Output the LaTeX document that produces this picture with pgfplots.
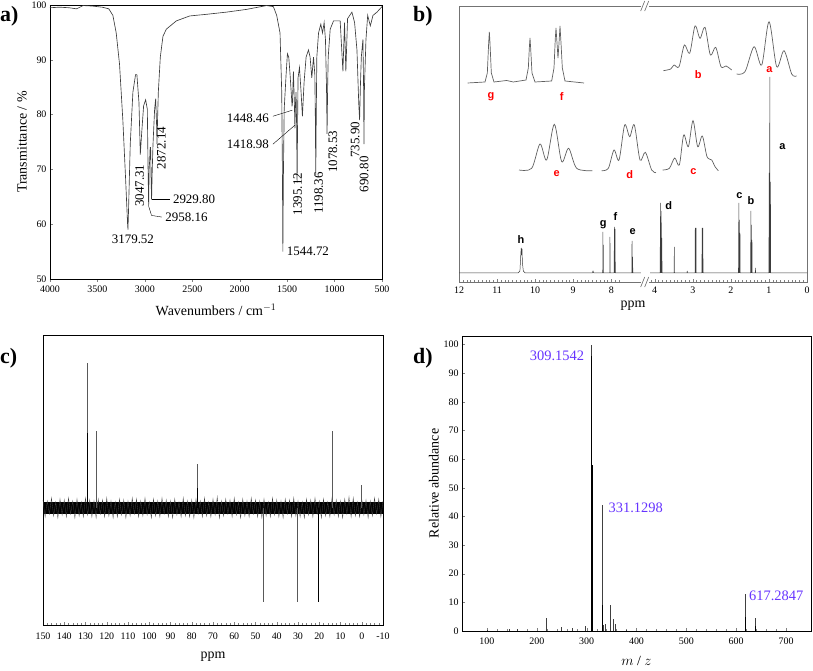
\documentclass[border=0pt]{standalone}
\usepackage{fontspec}
\setmainfont{Liberation Serif}
\newfontfamily\arialfont{Liberation Sans}
\usepackage{pgfplots}
\pgfplotsset{compat=1.18}
\definecolor{specgray}{RGB}{60,60,60}
\definecolor{insetgray}{RGB}{95,95,95}
\definecolor{labred}{RGB}{255,0,0}
\definecolor{labblue}{RGB}{102,51,255}
\newcommand{\fs}[1]{\fontsize{#1}{#1}\selectfont}
\begin{document}
\begin{tikzpicture}
\useasboundingbox (0bp,0bp) rectangle (813bp,671bp);
\pgfplotsset{every axis/.append style={scale only axis, anchor=south west,
  /pgf/number format/assume math mode=true,
  tick label style={font=\fs{10}},
  label style={font=\fs{14}},
  /pgf/number format/1000 sep={}}}
% ---------------- a) IR
\begin{axis}[at={(50bp,392bp)}, width=332bp, height=274bp,
  xmin=500, xmax=4000, x dir=reverse, ymin=50, ymax=100,
  xtick={500,1000,...,4000}, ytick={50,60,...,100},
  tick pos=left, xtick align=outside, ytick align=inside,
  major tick length=3bp,
  axis line style={line width=0.6pt},
  xlabel={Wavenumbers / cm$^{-1}$}, ylabel={Transmittance / \%},
  xlabel style={yshift=-5bp}, ylabel style={yshift=-2bp},
  clip=false]
\addplot[specgray, line width=0.65pt] coordinates {
(4000,99.5)(3900,99.6)(3800,99.5)(3720,99.3)(3650,99.9)(3550,99.8)(3450,99.6)(3380,99.3)(3337,98.1)(3302,94.9)(3267,89.2)(3232,79)(3203,68.3)(3182,60)(3178,59)(3172,62.6)(3154,74.6)(3126,84.1)(3098,87.3)(3084,87.3)(3062,82.2)(3048,72.7)(3034,76.5)(3013,81.6)(2992,82.7)(2974,81)(2966,70)(2960,63.2)(2955,70)(2950,71.4)(2944,74)(2939,74)(2934,68)(2929,64.5)(2922,70)(2914,74.6)(2897,81)(2886,82.9)(2876,78)(2872,74.6)(2866,79)(2858,84.1)(2837,90.5)(2809,94.3)(2773,95.6)(2668,97.1)(2527,98)(2350,98.3)(2139,98.7)(1927,99.2)(1716,99.9)(1645,99.7)(1610,98.1)(1575,94.9)(1557,84.1)(1550,70)(1545,55)(1540,68)(1531,81)(1511,87.3)(1497,91.1)(1483,90.5)(1469,87.3)(1455,83.5)(1448,81.5)(1444,82.2)(1434,87.9)(1423,81.6)(1418,77.5)(1412,82)(1406,84.1)(1400,78)(1395,67.6)(1390,78)(1385,86.7)(1370,88.6)(1353,84.1)(1339,79.7)(1321,86)(1300,90.5)(1275,91.8)(1258,90.5)(1240,86.7)(1222,90.5)(1208,87.3)(1203,80)(1198,68.9)(1193,80)(1187,90.5)(1169,94.9)(1145,96.5)(1127,94.9)(1110,96.8)(1096,93.7)(1085,85)(1079,76.5)(1073,85)(1067,90.5)(1046,95.6)(1011,97.1)(941,97.1)(912,87.9)(895,96.8)(881,87.9)(863,97.5)(817,98.7)(789,96.8)(764,91.8)(745,82)(736,79)(728,85)(718,90.5)(701,93.7)(694,85)(690,74.6)(685,85)(669,93.7)(651,98.1)(623,96.2)(595,98.1)(553,98.7)(500,99.7)};
\begin{scope}[font=\fs{13}]
\node at (axis cs:3126,57.2) {3179.52};
\node[rotate=90] at (axis cs:3055,67) {3047.31};
\node[rotate=90] at (axis cs:2826,73.9) {2872.14};
\draw[line width=0.4pt] (axis cs:2926,64.5) -- (axis cs:2740,64.5);
\node[anchor=west] at (axis cs:2740,64.5) {2929.80};
\draw[line width=0.4pt] (axis cs:2958,63.2) -- (axis cs:2930,61.6) -- (axis cs:2820,61.3);
\node[anchor=west] at (axis cs:2820,61.3) {2958.16};
\node[anchor=west] at (axis cs:1540,55) {1544.72};
\draw[line width=0.4pt] (axis cs:1650,79.7) -- (axis cs:1445,80.8);
\node[anchor=east] at (axis cs:1655,79.4) {1448.46};
\draw[line width=0.4pt] (axis cs:1650,74.6) -- (axis cs:1416,78.1);
\node[anchor=east] at (axis cs:1655,74.5) {1418.98};
\node[rotate=90] at (axis cs:1388,65.5) {1395.12};
\node[rotate=90] at (axis cs:1169,65.7) {1198.36};
\node[rotate=90] at (axis cs:1018,73.2) {1078.53};
\node[rotate=90] at (axis cs:782,75.4) {735.90};
\node[rotate=90] at (axis cs:687,69.1) {690.80};
\end{scope}
\end{axis}
% ---------------- b) 1H NMR
\begin{axis}[at={(459bp,389bp)}, width=348bp, height=276bp,
  xmin=2.86, xmax=12, x dir=reverse, ymin=-9, ymax=267,
  xtick={2.86,3.86,4.86,5.86,6.86,8,9,10,11,12},
  xticklabels={0,1,2,3,4,8,9,10,11,12},
  minor xtick={2.96,3.06,...,6.96,7.8,7.9,...,11.9},
  ytick=\empty, xtick pos=bottom, xtick align=inside,
  major tick length=3bp, minor tick length=2bp,
  x tick label style={yshift=-1bp},
  axis line style={black!55, line width=0.9pt},
  xlabel={ppm}, xlabel style={yshift=-1bp}, clip=false]
\addplot[specgray, line width=0.5pt] coordinates {
(12,0)(10.45,0)(10.40,2)(10.375,20)(10.365,25)(10.355,18)(10.345,24)(10.335,10)(10.31,2)(10.26,0)(8.5,0)(8.48,2)(8.46,0)(8.225,0)(8.22,41)(8.215,0)(8.21,28)(8.205,0)(8.04,0)(8.035,36)(8.03,0)(7.925,0)(7.92,46)(7.915,0)(7.9,44)(7.895,0)(7.46,0)(7.456,32)(7.45,0)(7.44,16)(7.435,0)(7.22,0)};
\addplot[specgray, line width=0.5pt, x filter/.expression={x+2.86}] coordinates {
(4.12,0)(3.86,0)(3.845,70)(3.835,0)(3.83,62)(3.82,0)(3.815,35)(3.805,0)(3.49,0)(3.485,26)(3.48,0)(3.15,0)(3.145,2)(3.14,0)(2.94,0)(2.935,45)(2.93,0)(2.915,45)(2.91,0)(2.76,0)(2.755,45)(2.75,0)(2.735,45)(2.73,0)(1.80,0)(1.79,70)(1.785,0)(1.775,53)(1.77,0)(1.76,40)(1.755,0)(1.48,0)(1.475,62)(1.47,0)(1.46,48)(1.455,0)(1.445,33)(1.44,0)(1.36,0)(1.355,5)(1.35,0)(1.0,0)(0.995,100)(0.99,0)(0.975,196)(0.97,0)(0.96,91)(0.955,0)(0,0)};
% insets
\addplot[insetgray, line width=0.7pt] coordinates {
(11.773,190)(11.317,191)(11.256,200)(11.221,230)(11.203,241)(11.186,230)(11.151,200)(11.081,191)(10.748,192.5)(10.573,191)(10.24,193)(10.179,205)(10.153,225)(10.135,235)(10.118,225)(10.083,200)(10.004,191)(9.566,192)(9.505,205)(9.47,235)(9.452,245)(9.426,230)(9.4,215)(9.373,230)(9.347,247)(9.321,230)(9.286,205)(9.216,192)(8.717,190)};
\addplot[insetgray, line width=0.7pt, smooth, tension=0.5] coordinates {
(6.633,202.3)(6.44,204)(6.353,208)(6.221,206.3)(6.081,228)(5.941,219.7)(5.801,247)(5.670,234.7)(5.539,245.7)(5.398,218)(5.258,225.7)(5.118,206.3)(4.987,207)(4.838,203)};
\addplot[insetgray, line width=0.7pt, smooth, tension=0.5] coordinates {
(4.707,199)(4.488,201.3)(4.251,226.3)(4.050,208)(3.857,251.3)(3.656,206.3)(3.463,222.3)(3.262,199)(3.131,197)};
\addplot[insetgray, line width=0.7pt, smooth, tension=0.5] coordinates {
(10.424,103)(10.091,104.7)(9.873,129)(9.697,113)(9.496,148.7)(9.303,111.3)(9.12,124.7)(8.909,104.7)(8.498,102.3)};
\addplot[insetgray, line width=0.7pt, smooth, tension=0.5] coordinates {
(8.253,102.3)(8.078,104.7)(7.929,123)(7.797,113)(7.649,148)(7.517,136.3)(7.395,148)(7.246,113)(7.106,120.7)(6.94,103)(6.826,100.3)};
\addplot[insetgray, line width=0.7pt, smooth, tension=0.5] coordinates {
(6.65,103)(6.475,104.7)(6.335,115)(6.213,108)(6.099,138)(5.976,126.3)(5.854,152.3)(5.731,126.3)(5.609,137)(5.486,116.3)(5.363,113)(5.276,106.3)(5.188,102.3)};
\begin{scope}[font=\arialfont\bfseries\fs{11}, text=labred]
\node at (axis cs:11.16,176.3) {g};
\node at (axis cs:9.303,176.3) {f};
\node at (axis cs:5.714,198) {b};
\node at (axis cs:3.849,203) {a};
\node at (axis cs:9.435,99.7) {e};
\node at (axis cs:7.517,98) {d};
\node at (axis cs:5.845,101.3) {c};
\end{scope}
\begin{scope}[font=\arialfont\bfseries\fs{11}]
\node at (axis cs:10.372,33.7) {h};
\node at (axis cs:8.209,48) {g};
\node at (axis cs:7.894,56.3) {f};
\node at (axis cs:7.438,41.3) {e};
\node at (axis cs:6.493,67) {d};
\node at (axis cs:4.637,77) {c};
\node at (axis cs:4.33,72) {b};
\node at (axis cs:3.507,126.3) {a};
\end{scope}
\fill[white] ([xshift=-4bp,yshift=-2bp]axis cs:7.11,-9) rectangle ([xshift=4bp,yshift=2bp]axis cs:7.11,-9);
\fill[white] ([xshift=-4bp,yshift=-2bp]axis cs:7.11,267) rectangle ([xshift=4bp,yshift=2bp]axis cs:7.11,267);
\draw[black!60, line width=0.6pt] ([xshift=-4.5bp,yshift=-5bp]axis cs:7.11,-9) -- ++(4bp,10bp);
\draw[black!60, line width=0.6pt] ([xshift=-0.5bp,yshift=-5bp]axis cs:7.11,-9) -- ++(4bp,10bp);
\draw[black!60, line width=0.6pt] ([xshift=-4.5bp,yshift=-5bp]axis cs:7.11,267) -- ++(4bp,10bp);
\draw[black!60, line width=0.6pt] ([xshift=-0.5bp,yshift=-5bp]axis cs:7.11,267) -- ++(4bp,10bp);
\end{axis}
% ---------------- c) 13C NMR
\begin{axis}[at={(43bp,46bp)}, width=340bp, height=290bp,
  xmin=-10, xmax=150, x dir=reverse, ymin=-117, ymax=173,
  xtick={-10,0,...,150}, minor x tick num=4,
  ytick=\empty, xtick pos=bottom, xtick align=inside,
  major tick length=3bp, minor tick length=1.5bp,
  x tick label style={yshift=-4bp},
  axis line style={line width=0.6pt},
  xlabel={ppm}, xlabel style={yshift=-6bp}]
\addplot[fill=black, draw=none] coordinates {(150,-6)(-10,-6)(-10,6)(150,6)} -- cycle;
\addplot[black!75, line width=0.35pt] coordinates {
(150,8)(149,-9)(148,7)(147,-6)(146,10)(145,-8)(144,6)(143,-10)(142,9)(141,-7)(140,8)(139,-9)(138,10)(137,-6)(136,7)(135,-10)(134,9)(133,-8)(132,6)(131,-9)(130,10)(129,-7)(128,8)(127,-9)(126,7)(125,-10)(124,9)(123,-6)(122,8)(121,-9)(120,10)(119,-8)(118,7)(117,-10)(116,6)(115,-9)(114,9)(113,-7)(112,8)(111,-10)(110,7)(109,-8)(108,10)(107,-6)(106,9)(105,-9)(104,7)(103,-8)(102,10)(101,-7)(100,6)(99,-10)(98,9)(97,-8)(96,7)(95,-9)(94,10)(93,-6)(92,8)(91,-9)(90,7)(89,-10)(88,9)(87,-7)(86,6)(85,-9)(84,10)(83,-8)(82,7)(81,-9)(80,8)(79,-10)(78,9)(77,-6)(76,7)(75,-9)(74,10)(73,-8)(72,6)(71,-9)(70,9)(69,-7)(68,11)(67,-10)(66,7)(65,-8)(64,9)(63,-6)(62,8)(61,-9)(60,10)(59,-7)(58,6)(57,-10)(56,9)(55,-8)(54,7)(53,-9)(52,10)(51,-6)(50,8)(49,-9)(48,7)(47,-10)(46,9)(45,-8)(44,6)(43,-9)(42,10)(41,-7)(40,8)(39,-9)(38,7)(37,-10)(36,9)(35,-6)(34,8)(33,-9)(32,10)(31,-8)(30,7)(29,-9)(28,6)(27,-10)(26,9)(25,-7)(24,8)(23,-9)(22,10)(21,-6)(20,7)(19,-10)(18,9)(17,-8)(16,6)(15,-9)(14,10)(13,-7)(12,8)(11,-9)(10,7)(9,-10)(8,9)(7,-6)(6,11)(5,-9)(4,10)(3,-8)(2,6)(1,-9)(0,9)(-1,-7)(-2,8)(-3,-10)(-4,7)(-5,-8)(-6,10)(-7,-6)(-8,9)(-9,-9)(-10,7)};
\addplot[ycomb, black!65, line width=0.6pt] coordinates {
(129.3,145)(124.7,77)(77.5,44)(13.8,77)(0.2,23)(46.5,-94)(30.3,-94)(20.5,-94)};
\addplot[ycomb, black, line width=0.6pt] coordinates {
(129.0,75)(77.2,20)(20.3,-94)};
\end{axis}
% ---------------- d) MS
\begin{axis}[at={(462bp,40bp)}, width=349bp, height=295bp,
  xmin=50, xmax=750, ymin=0, ymax=103,
  xtick={100,200,...,700}, ytick={0,10,...,100}, minor x tick num=4,
  tick pos=left, tick align=inside,
  major tick length=3bp, minor tick length=1.5bp,
  x tick label style={yshift=-3bp},
  axis line style={line width=0.9pt},
  xlabel={$m$ / $z$}, ylabel={Relative abundance},
  xlabel style={yshift=-5bp}, ylabel style={yshift=-2bp}, clip=false]
\addplot[ycomb, black!75, line width=0.6pt] coordinates {
(309.15,100)(331.13,44)(617.28,12.9)(347,9)(220,4.7)(638,4.5)(353,4.2)(338,2.5)(358,2.5)(250,1.5)(272,1)(298,1.8)(145,0.6)(160,0.8)(380,0.5)(100,0.5)(312,1.5)(333,2)(348,3)(354,2)};
\addplot[ycomb, black, line width=0.8pt] coordinates {
(310.2,96)(311.1,58)(332.1,9)(618.3,4.8)(619.3,2.4)(639,1.7)};
\begin{scope}[font=\fs{14.5}, text=labblue]
\node[anchor=east] at (axis cs:302,96.2) {309.1542};
\node[anchor=west] at (axis cs:337,42.9) {331.1298};
\node[anchor=west] at (axis cs:619,12.2) {617.2847};
\end{scope}
\end{axis}
% panel letters
\begin{scope}[font=\bfseries\fs{22}]
\node[anchor=west, inner sep=0pt] at (0bp,655bp) {a)};
\node[anchor=west, inner sep=0pt] at (413bp,655bp) {b)};
\node[anchor=west, inner sep=0pt] at (0bp,313bp) {c)};
\node[anchor=west, inner sep=0pt] at (413bp,313bp) {d)};
\end{scope}
\end{tikzpicture}
\end{document}
